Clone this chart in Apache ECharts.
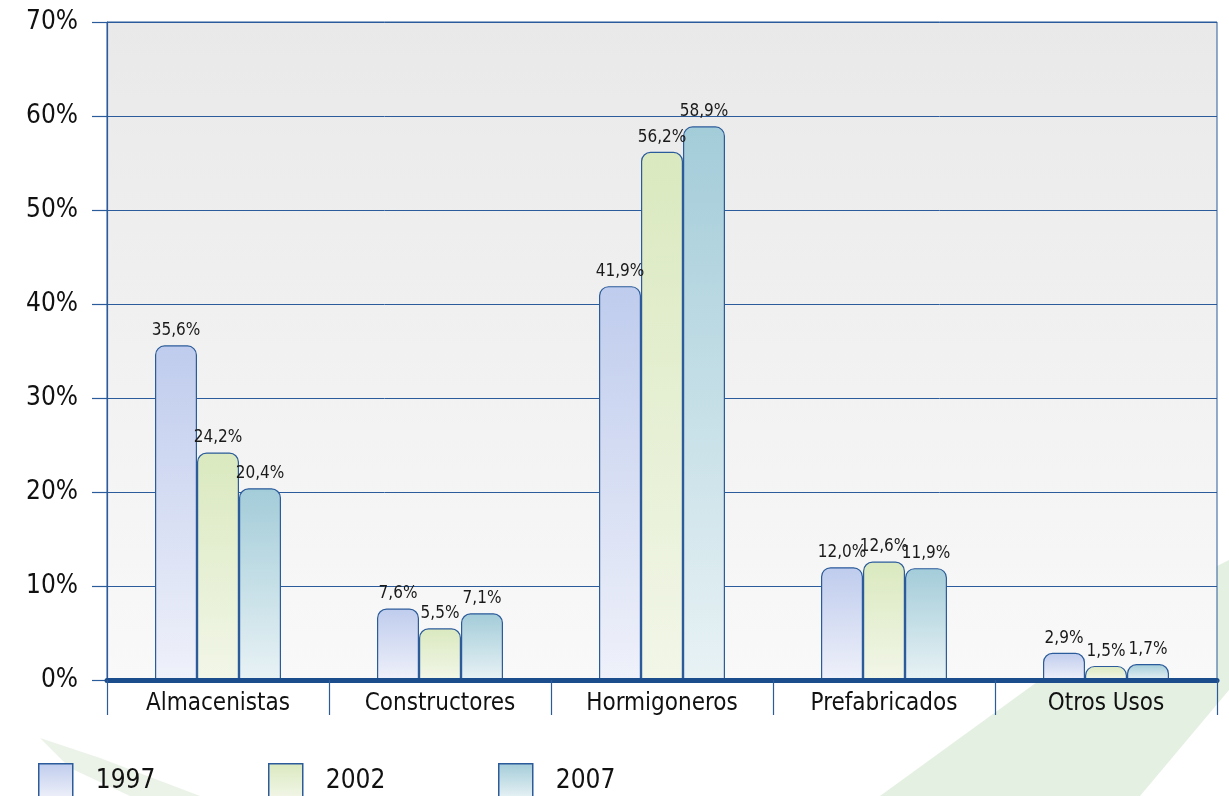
<!DOCTYPE html>
<html>
<head>
<meta charset="utf-8">
<script src="https://cdn.jsdelivr.net/npm/echarts@6/dist/echarts.min.js"></script>
<style>
  html, body { margin: 0; padding: 0; background: #fff; }
  #chart { width: 1229px; height: 796px; }
</style>
</head>
<body>
<div id="chart"></div>
<script>
const categories = ['Almacenistas', 'Constructores', 'Hormigoneros', 'Prefabricados', 'Otros Usos'];
const years = ['1997', '2002', '2007'];
const v1997 = [35.6, 7.6, 41.9, 12.0, 2.9];
const v2002 = [24.2, 5.5, 56.2, 12.6, 1.5];
const v2007 = [20.4, 7.1, 58.9, 11.9, 1.7];
const yTicks = [0, 10, 20, 30, 40, 50, 60, 70];

const navy = '#2b5b9a';
const font = '"Liberation Sans Narrow", "DejaVu Sans Condensed", "Liberation Sans", sans-serif';

const grad = (top, bottom) => new echarts.graphic.LinearGradient(0, 0, 0, 1, [
  { offset: 0, color: top },
  { offset: 1, color: bottom },
]);

const fills = [
  grad('#bfcced', '#eff1fa'),
  grad('#dae9bf', '#f2f6e8'),
  grad('#a3ccd9', '#e8f2f5'),
];

const fmt = (p) => p.value.toFixed(1).replace('.', ',') + '%';

const chart = echarts.init(document.getElementById('chart'));

const makeSeries = (name, data, i) => ({
  name,
  type: 'bar',
  data,
  barWidth: 42,
  barGap: '0%',
  z: 3,
  itemStyle: {
    color: fills[i],
    borderColor: navy,
    borderWidth: 1.2,
    borderRadius: [9, 9, 0, 0],
  },
  label: {
    show: true,
    position: 'top',
    distance: 6,
    formatter: fmt,
    fontFamily: font,
    fontSize: 17,
    color: '#1a1a1a',
  },
});

const legendAt = (name, left) => ({
  data: [name],
  left,
  top: 758,
  itemWidth: 34,
  itemHeight: 34,
  icon: 'rect',
  selectedMode: false,
  itemStyle: { borderColor: navy, borderWidth: 1.5 },
  textStyle: { fontFamily: font, fontSize: 26, color: '#111', padding: [0, 0, 0, 18] },
});

chart.setOption({
  backgroundColor: '#ffffff',
  animation: false,
  graphic: [
    {
      type: 'polygon',
      z: -10,
      silent: true,
      shape: { points: [[880, 796], [1140, 796], [1229, 690], [1229, 560], [1150, 600]] },
      style: { fill: 'rgba(205, 228, 200, 0.55)' },
    },
    {
      type: 'polygon',
      z: -10,
      silent: true,
      shape: { points: [[40, 738], [100, 758], [200, 796], [130, 796], [70, 768]] },
      style: { fill: 'rgba(215, 232, 210, 0.5)' },
    },
  ],
  legend: [legendAt('1997', 33), legendAt('2002', 263), legendAt('2007', 493)],
  grid: {
    left: 107,
    right: 12,
    top: 22,
    bottom: 116,
    show: true,
    borderColor: navy,
    borderWidth: 1,
    backgroundColor: grad('#e9e9e9', '#f9f9f9'),
  },
  xAxis: {
    type: 'category',
    data: categories,
    axisLine: { lineStyle: { color: '#1b4d8c', width: 5 } },
    axisTick: { show: true, length: 35, interval: 0, lineStyle: { color: navy, width: 1.2 } },
    axisLabel: { interval: 0, fontFamily: font, fontSize: 24, color: '#111', margin: 12 },
    z: 5,
  },
  yAxis: {
    type: 'value',
    min: yTicks[0],
    max: yTicks[yTicks.length - 1],
    interval: 10,
    axisLine: { show: true, lineStyle: { color: navy, width: 1.2 } },
    axisTick: { show: true, length: 15, lineStyle: { color: navy, width: 1.2 } },
    axisLabel: { formatter: '{value}%', fontFamily: font, fontSize: 26, color: '#111', margin: 29 },
    splitLine: { show: true, lineStyle: { color: navy, width: 1 } },
  },
  series: [
    makeSeries(years[0], v1997, 0),
    makeSeries(years[1], v2002, 1),
    makeSeries(years[2], v2007, 2),
  ],
});
</script>
</body>
</html>
